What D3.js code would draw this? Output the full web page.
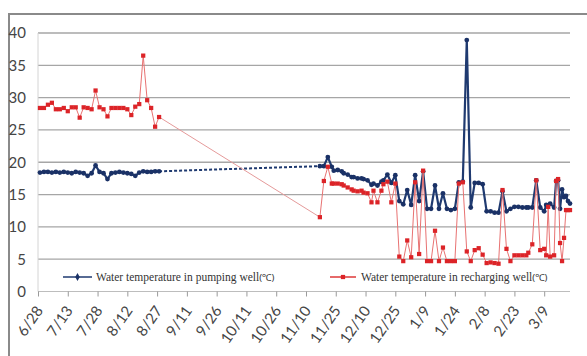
<!DOCTYPE html>
<html>
<head>
<meta charset="utf-8">
<script src="https://cdn.jsdelivr.net/npm/d3@7"></script>
<style>
  html, body { margin: 0; padding: 0; background: #fff; }
  svg { display: block; }
</style>
</head>
<body>
<svg id="chart" width="587" height="356"></svg>
<script>
// Sampling dates are stored as day offsets from the first axis date.
const startDate = "2015-06-28";
const endDay = 268;               // last day shown on the time axis (3/22)
const tickLabels = ["6/28", "7/13", "7/28", "8/12", "8/27", "9/11", "9/26", "10/11", "10/26",
                    "11/10", "11/25", "12/10", "12/25", "1/9", "1/24", "2/8", "2/23", "3/9"];
const yTicks = [0, 5, 10, 15, 20, 25, 30, 35, 40];

const sampleDays = [
  1, 3, 5, 7, 9, 11, 13, 15, 17, 19, 21, 23, 25, 27, 29, 31, 33, 35, 37, 39, 41,
  43, 45, 47, 49, 51, 53, 55, 57, 59, 61,
  142, 144, 146, 148, 149, 151, 153, 154, 156, 158, 159, 161, 163, 164, 166, 168,
  169, 171, 173, 174, 176, 178, 180, 182, 184, 186, 188, 190, 192, 194, 196, 198,
  200, 202, 204, 206, 208, 210, 212, 214, 216, 218, 220, 222, 224, 226, 228, 230,
  232, 234, 236, 238, 240, 242, 244, 246, 247, 249, 251, 253, 255, 256, 257, 258,
  260, 261, 262, 263, 264, 265, 266, 267, 268
];

const pumpTemps = [
  18.4, 18.5, 18.5, 18.4, 18.5, 18.4, 18.5, 18.4, 18.3, 18.5, 18.4, 18.3, 17.9, 18.3,
  19.5, 18.5, 18.3, 17.4, 18.3, 18.4, 18.5, 18.4, 18.3, 18.2, 17.9, 18.4, 18.6, 18.5,
  18.5, 18.6, 18.6,
  19.4, 19.4, 20.8, 19.3, 18.7, 18.8, 18.6, 18.3, 18.1, 17.7, 17.7, 17.5, 17.5, 17.4,
  17.2, 16.5, 16.7, 16.4, 17.0, 17.2, 18.1, 16.8, 18.0, 14.0, 13.5, 15.7, 13.4, 18.0,
  14.0, 18.6, 12.8, 12.8, 16.4, 12.8, 15.2, 12.8, 12.6, 12.8, 16.9, 17.0, 38.9, 13.0,
  16.8, 16.8, 16.6, 12.4, 12.4, 12.2, 12.2, 15.5, 12.4, 12.8, 13.1, 13.1, 13.0, 13.0,
  13.0, 13.0, 17.2, 13.0, 12.4, 13.4, 13.3, 13.6, 13.0, 17.1, 17.2, 12.8, 15.8, 14.6,
  14.8, 14.0, 13.6
];

const rechargeTemps = [
  28.4, 28.4, 28.9, 29.2, 28.2, 28.2, 28.4, 27.9, 28.5, 28.5, 26.9, 28.5, 28.4, 28.2,
  31.1, 28.5, 28.2, 27.1, 28.4, 28.4, 28.4, 28.4, 28.2, 27.3, 28.6, 29.0, 36.5, 29.6,
  28.4, 25.5, 27.0,
  11.5, 17.1, 19.3, 16.7, 16.7, 16.7, 16.6, 16.4, 16.1, 15.8, 15.6, 15.5, 15.6, 15.3,
  15.2, 13.8, 15.6, 13.8, 15.6, 16.6, 17.0, 13.8, 16.7, 5.4, 4.7, 7.9, 5.3, 16.9,
  5.8, 18.7, 4.7, 4.7, 9.4, 4.7, 6.8, 4.7, 4.7, 4.7, 16.7, 16.9, 6.2, 4.7,
  6.4, 6.7, 5.7, 4.4, 4.5, 4.4, 4.3, 15.7, 6.6, 4.7, 5.6, 5.6, 5.6, 5.6,
  6.0, 7.3, 17.2, 6.4, 6.6, 5.6, 13.1, 5.4, 5.6, 17.1, 17.4, 7.5, 4.7, 8.3,
  12.6, 12.6, 12.6
];

const seriesNames = ["Water temperature in pumping well", "Water temperature in recharging well"];
const unitLabel = "(\u2103)";
const lastDayBeforeBreak = 61;    // no samples between late August and mid November

// ---- layout ----
const svg = d3.select("#chart");
const plot = { left: 38, right: 570, top: 33, bottom: 291.5 };

const t0 = d3.timeParse("%Y-%m-%d")(startDate);
const dayToDate = d => d3.timeDay.offset(t0, d);
const labelToDate = s => {
  const [m, d] = s.split("/").map(Number);
  return new Date(m >= 6 ? 2015 : 2016, m - 1, d);
};

const x = d3.scaleTime().domain([t0, dayToDate(endDay)]).range([plot.left, plot.right]);
const y = d3.scaleLinear().domain([0, 40]).range([plot.bottom, plot.top]);

// chart-area frame (top and left edges)
svg.append("path")
  .attr("d", `M9,356 V14 H587`)
  .attr("fill", "none").attr("stroke", "#8a8a8a").attr("stroke-width", 2);

// horizontal gridlines
svg.append("g").selectAll("line")
  .data(yTicks.filter(v => v > 0))
  .join("line")
  .attr("x1", plot.left).attr("x2", plot.right)
  .attr("y1", d => y(d)).attr("y2", d => y(d))
  .attr("stroke", "#a6a6a6").attr("stroke-width", 1.3);

// vertical axis line
svg.append("line")
  .attr("x1", plot.left).attr("x2", plot.left)
  .attr("y1", plot.top).attr("y2", plot.bottom)
  .attr("stroke", "#d4d4d4").attr("stroke-width", 1);

// y axis labels
const yAxis = svg.append("g")
  .attr("transform", `translate(${plot.left - 12},0)`)
  .call(d3.axisLeft(y).tickValues(yTicks).tickSize(0).tickPadding(0));
yAxis.select(".domain").remove();
yAxis.selectAll("text")
  .attr("font-family", "Lato, 'Noto Sans', sans-serif")
  .attr("font-size", 15)
  .attr("fill", "#454545");

// x axis
const xAxis = svg.append("g")
  .attr("transform", `translate(0,${plot.bottom})`)
  .call(d3.axisBottom(x)
    .tickValues(tickLabels.map(labelToDate))
    .tickFormat((d, i) => tickLabels[i])
    .tickSize(5));
xAxis.select(".domain").attr("stroke", "#bdbdbd").attr("d", `M${plot.left},0H${plot.right}`);
xAxis.selectAll(".tick line").attr("stroke", "#9a9a9a");
xAxis.selectAll("text")
  .attr("font-family", "Lato, 'Noto Sans', sans-serif")
  .attr("font-size", 15)
  .attr("fill", "#454545")
  .attr("text-anchor", "end")
  .attr("x", 0).attr("y", 0).attr("dy", "0.35em")
  .attr("transform", "translate(1,16) rotate(-55)");

// ---- series ----
const rows = sampleDays.map((d, i) => ({
  date: dayToDate(d), day: d, pump: pumpTemps[i], recharge: rechargeTemps[i]
}));
const before = rows.filter(r => r.day <= lastDayBeforeBreak);
const after = rows.filter(r => r.day > lastDayBeforeBreak);
const bridge = [before[before.length - 1], after[0]];

function drawSeries(key, opts) {
  const line = d3.line().x(r => x(r.date)).y(r => y(r[key]));
  const g = svg.append("g");
  g.append("path").datum(bridge).attr("d", line)
    .attr("fill", "none").attr("stroke", opts.bridgeColor)
    .attr("stroke-width", opts.bridgeWidth)
    .attr("stroke-dasharray", opts.bridgeDash || null);
  [before, after].forEach(seg => {
    g.append("path").datum(seg).attr("d", line)
      .attr("fill", "none").attr("stroke", opts.lineColor)
      .attr("stroke-width", opts.lineWidth).attr("stroke-linejoin", "round");
  });
  g.selectAll("path.mk").data(rows).join("path")
    .attr("class", "mk")
    .attr("transform", r => `translate(${x(r.date)},${y(r[key])})`)
    .attr("d", d3.symbol().type(opts.symbol).size(opts.size))
    .attr("fill", opts.markColor);
}

drawSeries("pump", {
  lineColor: "#1f3a70", lineWidth: 2.2, bridgeColor: "#1f3a70", bridgeWidth: 2,
  bridgeDash: "3,2", symbol: d3.symbolCircle, size: 18, markColor: "#1a3166"
});
drawSeries("recharge", {
  lineColor: "#e87272", lineWidth: 1, bridgeColor: "#e59a9a", bridgeWidth: 1,
  symbol: d3.symbolSquare, size: 18, markColor: "#dc2428"
});

// ---- legend ----
const legend = [
  { name: seriesNames[0], x0: 63, x1: 92, tx: 96, color: "#1f3a70", width: 1.5, symbol: d3.symbolDiamond, mark: "#1a3166" },
  { name: seriesNames[1], x0: 330, x1: 356, tx: 361, color: "#e66a6a", width: 2, symbol: d3.symbolSquare, mark: "#dc2428" }
];
const ly = 277;
const lg = svg.append("g").selectAll("g").data(legend).join("g");
lg.append("line")
  .attr("x1", d => d.x0).attr("x2", d => d.x1).attr("y1", ly).attr("y2", ly)
  .attr("stroke", d => d.color).attr("stroke-width", d => d.width);
lg.append("path")
  .attr("transform", d => `translate(${(d.x0 + d.x1) / 2},${ly})`)
  .attr("d", d => d3.symbol().type(d.symbol).size(18)())
  .attr("fill", d => d.mark);
const lt = lg.append("text")
  .attr("x", d => d.tx).attr("y", ly + 4)
  .attr("font-family", "'Liberation Serif', 'DejaVu Serif', serif")
  .attr("font-size", 11.5)
  .attr("fill", "#333");
lt.append("tspan").text(d => d.name);
lt.append("tspan").attr("font-family", "'Noto Sans', sans-serif").attr("font-size", 9.5).text(unitLabel);
</script>
</body>
</html>
